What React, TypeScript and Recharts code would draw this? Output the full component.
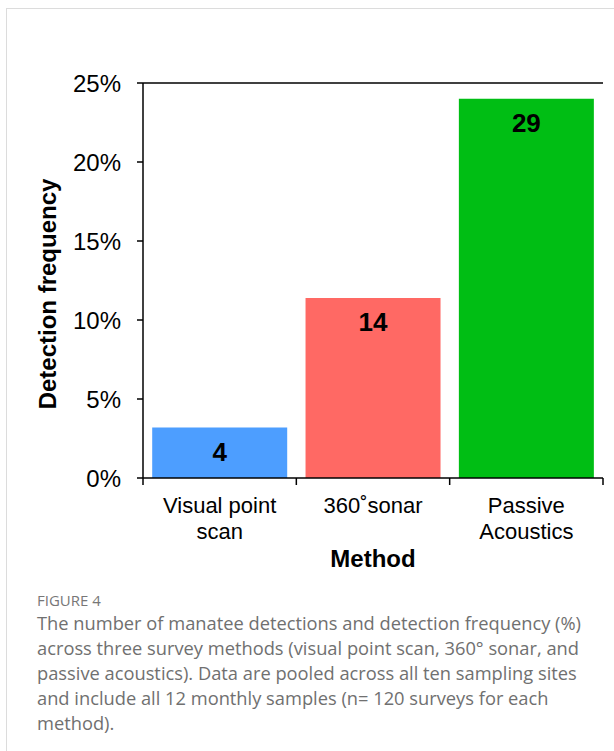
import { Bar, BarChart, LabelList, ReferenceLine, XAxis, YAxis } from "recharts"

// values
const methods = ["Visual point scan", "360˚sonar", "Passive Acoustics"]
const methodLabelLines = [["Visual point", "scan"], ["360˚sonar"], ["Passive", "Acoustics"]]
const detectionFrequency = [3.2, 11.4, 24.0]
const detectionCounts = [4, 14, 29]
const barColors = ["#4D9EFF", "#FF6964", "#00BE14"]
const yTicks = [0, 5, 10, 15, 20, 25]

const captionLines = [
  "The number of manatee detections and detection frequency (%)",
  "across three survey methods (visual point scan, 360° sonar, and",
  "passive acoustics). Data are pooled across all ten sampling sites",
  "and include all 12 monthly samples (n= 120 surveys for each",
  "method).",
]

const chartData = methods.map((name, i) => ({
  name,
  freq: detectionFrequency[i],
  count: detectionCounts[i],
  fill: barColors[i],
}))

const FONT = "'Liberation Sans', Arial, sans-serif"

// category label plus tick marks on the band edges (not the band centre)
function MethodTick(props: any) {
  const { x, y, payload, index, width, visibleTicksCount } = props
  const half = payload.offset || width / (visibleTicksCount || 3) / 2
  const lines = methodLabelLines[index] || [String(payload.value)]
  const isLast = index === (visibleTicksCount || methods.length) - 1
  return (
    <g>
      <line x1={x - half} x2={x - half} y1={y} y2={y + 7} stroke="#000" strokeWidth={1.5} />
      {isLast && <line x1={x + half} x2={x + half} y1={y} y2={y + 7} stroke="#000" strokeWidth={1.5} />}
      <text x={x} y={y + 35} textAnchor="middle" fontSize={22} fontFamily={FONT} fill="#000">
        {lines.map((l, i) => (
          <tspan key={i} x={x} dy={i === 0 ? 0 : 26}>
            {l}
          </tspan>
        ))}
      </text>
    </g>
  )
}

export default function App() {
  return (
    <div style={{ position: "absolute", left: 0, top: 0, width: 614, height: 751, background: "#fff", overflow: "hidden" }}>
      <div
        style={{
          position: "absolute",
          left: 6,
          top: 8,
          width: 700,
          height: 800,
          border: "1px solid #dcdcdc",
          boxSizing: "border-box",
        }}
      />
      <div style={{ position: "absolute", left: 0, top: 0 }}>
        <BarChart width={614} height={620} data={chartData} margin={{ top: 83, right: 11, bottom: 42, left: 43 }} barCategoryGap="6%">
          <XAxis
            dataKey="name"
            interval={0}
            height={100}
            tickSize={0}
            tickMargin={0}
            tickLine={false}
            axisLine={{ stroke: "#000", strokeWidth: 1.5 }}
            tick={<MethodTick />}
          />
          <YAxis
            yAxisId="l"
            domain={[0, 25]}
            ticks={yTicks}
            interval={0}
            width={100}
            tickSize={6}
            tickMargin={16}
            tickFormatter={(v) => `${v}%`}
            tick={{ fontSize: 24, fontFamily: FONT, fill: "#000" }}
            tickLine={{ stroke: "#000", strokeWidth: 1.5 }}
            axisLine={{ stroke: "#000", strokeWidth: 1.5 }}
          />
          <YAxis
            yAxisId="r"
            orientation="right"
            domain={[0, 25]}
            width={0}
            tick={false}
            tickLine={false}
            axisLine={{ stroke: "#000", strokeWidth: 1.5 }}
          />
          <ReferenceLine yAxisId="l" y={25} stroke="#000" strokeWidth={1.5} />
          <Bar dataKey="freq" yAxisId="l" isAnimationActive={false}>
            <LabelList
              dataKey="count"
              position="insideTop"
              offset={15}
              fill="#000"
              fontSize={26}
              fontWeight="bold"
              fontFamily={FONT}
            />
          </Bar>
        </BarChart>
      </div>
      <div
        style={{
          position: "absolute",
          left: 48,
          top: 294,
          transform: "translate(-50%, -50%) rotate(-90deg)",
          whiteSpace: "nowrap",
          fontFamily: FONT,
          fontWeight: "bold",
          fontSize: 24,
          lineHeight: "28px",
          color: "#000",
        }}
      >
        Detection frequency
      </div>
      <div
        style={{
          position: "absolute",
          left: 373,
          top: 559,
          transform: "translate(-50%, -50%)",
          whiteSpace: "nowrap",
          fontFamily: FONT,
          fontWeight: "bold",
          fontSize: 24,
          lineHeight: "28px",
          color: "#000",
        }}
      >
        Method
      </div>
      <div
        style={{
          position: "absolute",
          left: 37,
          top: 590,
          fontFamily: "'Open Sans', sans-serif",
          fontSize: 15,
          lineHeight: "20px",
          color: "#777",
        }}
      >
        FIGURE 4
      </div>
      <div
        style={{
          position: "absolute",
          left: 37,
          top: 610,
          fontFamily: "'Open Sans', sans-serif",
          fontSize: 18.3,
          lineHeight: "25px",
          color: "#707070",
          whiteSpace: "nowrap",
        }}
      >
        {captionLines.map((l, i) => (
          <div key={i}>{l}</div>
        ))}
      </div>
    </div>
  )
}
